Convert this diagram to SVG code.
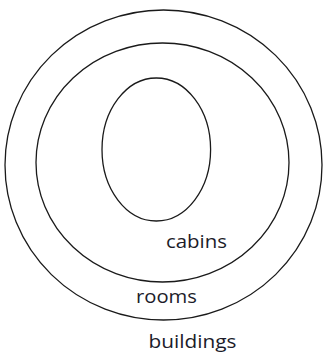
<svg xmlns="http://www.w3.org/2000/svg" width="323" height="356" viewBox="0 0 323 356">
<style>
.ring{fill:none;stroke:#1a1a1a;stroke-width:1.3}
.lbl{font-family:"Open Sans","Liberation Sans",sans-serif;font-size:19px;fill:#1c1c2a;text-anchor:middle}
</style>
<rect width="323" height="356" fill="#fff"/>
<g id="buildings">
<ellipse class="ring" cx="163.5" cy="165" rx="158.5" ry="155"/>
<text class="lbl" x="192.5" y="348" textLength="88" lengthAdjust="spacingAndGlyphs">buildings</text>
</g>
<g id="rooms">
<ellipse class="ring" cx="162.5" cy="162.5" rx="126.5" ry="119.5"/>
<text class="lbl" x="166.5" y="303" textLength="61" lengthAdjust="spacingAndGlyphs">rooms</text>
</g>
<g id="cabins">
<ellipse class="ring" cx="156.3" cy="149.5" rx="54.3" ry="71.5"/>
<text class="lbl" x="196.5" y="248" textLength="61" lengthAdjust="spacingAndGlyphs">cabins</text>
</g>
<g id="connectors"/>
</svg>
